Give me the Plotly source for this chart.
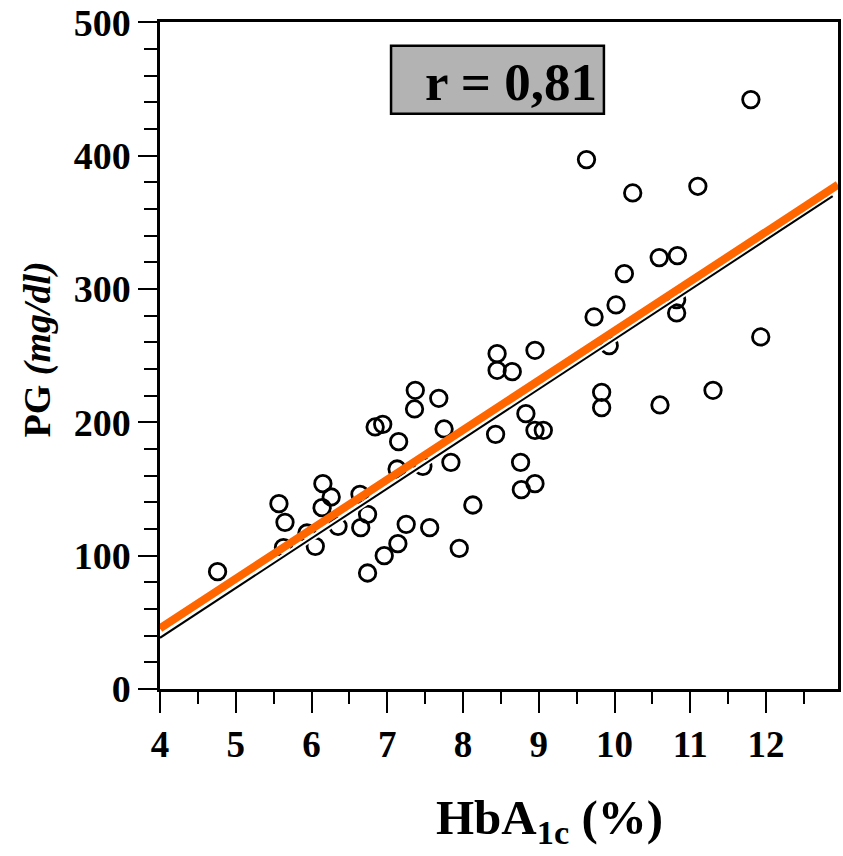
import plotly.graph_objects as go

# HbA1c (%) versus plasma glucose (mg/dl), one circle per patient
hba1c = [4.76, 5.57, 5.65, 5.63, 5.94, 6.05, 6.15, 6.26, 6.14, 6.35,
         6.64, 6.74, 6.65, 6.74, 6.84, 6.94, 7.15, 7.13, 7.14, 7.25,
         6.96, 7.37, 7.36, 7.47, 7.56, 7.68, 7.75, 7.84, 7.95, 8.13,
         8.45, 8.45, 8.43, 8.65, 8.76, 8.77, 8.83, 8.95, 8.95, 9.06,
         8.95, 9.63, 9.73, 9.83, 9.83, 9.93, 10.02, 10.13, 10.24, 10.59,
         10.60, 10.83, 10.82, 10.82, 11.10, 11.30, 11.80, 11.93]
pg = [88, 139, 125, 106, 117, 107, 154, 144, 136, 122,
      146, 131, 121, 87, 196.5, 198.5, 185.5, 165, 109, 123.5,
      100, 224, 210, 167, 121, 218, 195, 170, 105.5, 138,
      251.5, 239, 191, 238, 170, 149.5, 206.5, 254, 194, 194,
      154, 397, 279, 222.5, 211, 257.5, 288, 311.5, 372, 323.5,
      213, 325, 292, 282, 377, 224, 442, 264]

# regression line (thin black, with a highlighted orange copy above it)
fit_x = [4.0, 12.88]
fit_y = [38.4, 369.6]
hl_x = [4.0, 12.95]
hl_y = [45.5, 378.2]

r_label = "r = 0,81"
x_ticks = [4, 5, 6, 7, 8, 9, 10, 11, 12]
y_ticks = [0, 100, 200, 300, 400, 500]

SERIF = "Liberation Serif"

fig = go.Figure()

fig.add_trace(go.Scatter(
    x=hba1c, y=pg, mode="markers",
    marker=dict(symbol="circle-open", size=16.5, color="black",
                line=dict(width=2.8, color="black")),
    hoverinfo="x+y", showlegend=False))

# white casing under the black fit line
fig.add_trace(go.Scatter(x=fit_x, y=fit_y, mode="lines",
                         line=dict(color="white", width=6),
                         hoverinfo="skip", showlegend=False))
fig.add_trace(go.Scatter(x=fit_x, y=fit_y, mode="lines",
                         line=dict(color="black", width=2),
                         hoverinfo="skip", showlegend=False))
fig.add_trace(go.Scatter(x=hl_x, y=hl_y, mode="lines",
                         line=dict(color="#ff6600", width=8),
                         hoverinfo="skip", showlegend=False))

axis_common = dict(
    showline=True, linecolor="black", linewidth=2.5, mirror=True,
    showgrid=False, zeroline=False,
    ticks="outside", tickcolor="black", tickwidth=2,
    ticklabeloverflow="allow",
)

fig.update_xaxes(
    range=[4, 12.95], tickvals=x_ticks, ticklen=21,
    tickfont=dict(family=SERIF, size=37, color="black", weight="bold"),
    minor=dict(ticks="outside", dtick=0.5, tick0=4, ticklen=12,
               tickcolor="black", tickwidth=2),
    **axis_common)
fig.update_yaxes(
    range=[0, 500.2], tickvals=y_ticks, ticklen=19,
    tickfont=dict(family=SERIF, size=38, color="black", weight="bold"),
    minor=dict(ticks="outside", dtick=20, tick0=0, ticklen=13,
               tickcolor="black", tickwidth=2),
    **axis_common)

# correlation coefficient box
fig.add_shape(type="rect", xref="x", yref="y",
              x0=7.05, x1=9.86, y0=431.4, y1=482.3,
              fillcolor="#b3b3b3", line=dict(color="black", width=2.5),
              layer="above")
fig.add_annotation(x=8.63, y=455, xref="x", yref="y", text=r_label,
                   showarrow=False, xanchor="center", yanchor="middle",
                   font=dict(family=SERIF, size=53, color="black", weight="bold"))

# axis titles
fig.add_annotation(xref="paper", yref="paper", x=0.5, y=0, xshift=50, yshift=-131,
                   text="HbA<sub>1c</sub> (%)", showarrow=False,
                   xanchor="center", yanchor="middle",
                   font=dict(family=SERIF, size=49, color="black", weight="bold"))
fig.add_annotation(xref="paper", yref="paper", x=0, y=0.5, xshift=-123, yshift=6,
                   text="PG <i>(mg/dl)</i>", textangle=-90, showarrow=False,
                   xanchor="center", yanchor="middle",
                   font=dict(family=SERIF, size=38, color="black", weight="bold"))

fig.update_layout(
    width=843, height=856,
    margin=dict(l=160, r=2, t=18, b=167),
    paper_bgcolor="white", plot_bgcolor="white",
)

fig.write_html("out.html")
